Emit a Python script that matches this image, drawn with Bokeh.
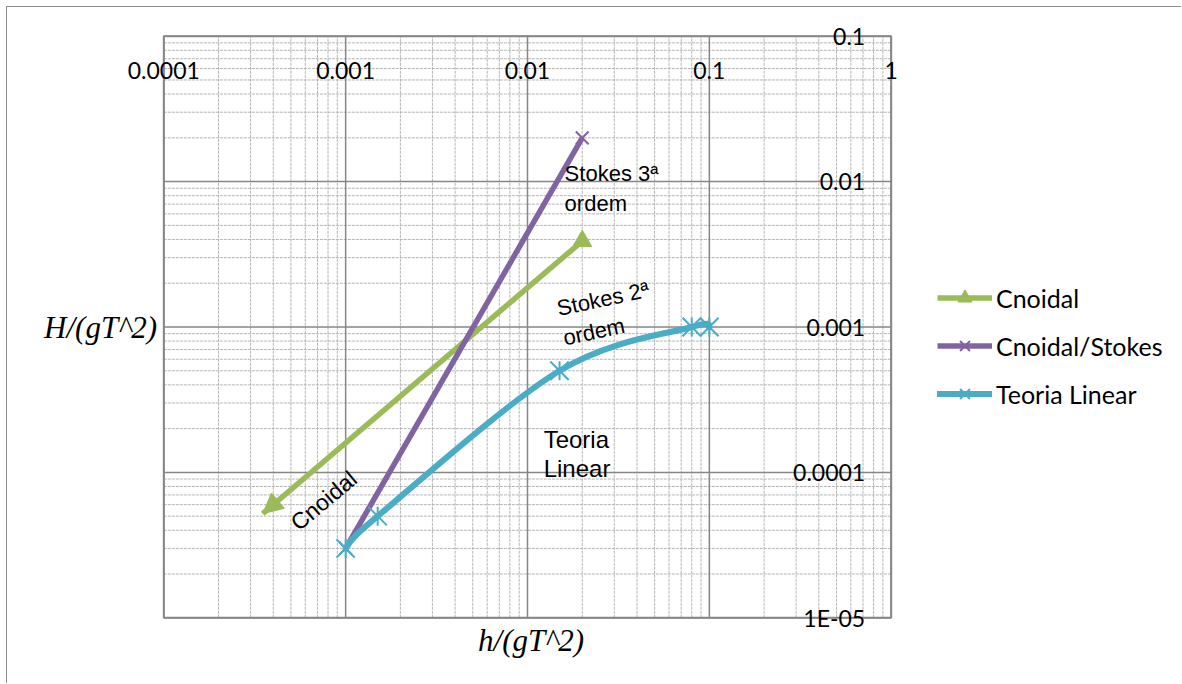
import numpy as np
from bokeh.plotting import figure
from bokeh.models import (Range1d, Legend, LegendItem, Label, LabelSet,
                          ColumnDataSource, Arrow, NormalHead)
from bokeh.core.properties import value
from bokeh.embed import file_html
from bokeh.resources import INLINE

# ---- data ----
x_ticks = [1e-4, 1e-3, 1e-2, 1e-1, 1.0]
x_tick_labels = ["0.0001", "0.001", "0.01", "0.1", "1"]
y_ticks = [1e-5, 1e-4, 1e-3, 1e-2, 1e-1]
y_tick_labels = ["1E-05", "0.0001", "0.001", "0.01", "0.1"]

cnoidal_x = [0.00035, 0.020]
cnoidal_y = [5.2e-5, 0.0039]
stokes_x = [0.001, 0.020]
stokes_y = [3.0e-5, 0.020]
linear_x = [0.001, 0.0015, 0.015, 0.080, 0.100]
linear_y = [3.0e-5, 5.0e-5, 5.0e-4, 0.001, 0.001]

series_names = ["Cnoidal", "Cnoidal/Stokes", "Teoria Linear"]

# ---- styles / layout ----
GREEN = "#9BBB59"
PURPLE = "#8064A2"
CYAN = "#4BACC6"
GRID = "#868686"
MINOR = "#b4b4b4"

W, H = 1175, 677            # canvas size (page offset 7px by margin + border)
ORIGIN = 7
AREA_L, AREA_R, AREA_T, AREA_B = 163.3, 890.7, 35.7, 617.3   # plot area on page

lx0, lx1 = np.log10(x_ticks[0]), np.log10(x_ticks[-1])
ly0, ly1 = np.log10(y_ticks[0]), np.log10(y_ticks[-1])
xdec = (AREA_R - AREA_L) / (lx1 - lx0)
ydec = (AREA_B - AREA_T) / (ly1 - ly0)
x_range = Range1d(10 ** (lx0 - (AREA_L - ORIGIN) / xdec), 10 ** (lx1 + (ORIGIN + W - AREA_R) / xdec))
y_range = Range1d(10 ** (ly0 - (ORIGIN + H - AREA_B) / ydec), 10 ** (ly1 + (AREA_T - ORIGIN) / ydec))

x_minor = [m * 10.0 ** e for e in range(int(lx0), int(lx1)) for m in range(2, 10)]
y_minor = [m * 10.0 ** e for e in range(int(ly0), int(ly1)) for m in range(2, 10)]

p = figure(width=W, height=H, x_axis_type="log", y_axis_type="log",
           x_range=x_range, y_range=y_range,
           output_backend="svg", toolbar_location=None, title=None,
           min_border_left=0, min_border_right=0, min_border_top=0, min_border_bottom=0)
p.styles = {"margin-left": "6px", "margin-top": "6px",
            "border-left": "1px solid #8c8c8c", "border-top": "1px solid #8c8c8c"}
p.xaxis.visible = False
p.yaxis.visible = False
p.xgrid.visible = False
p.ygrid.visible = False
p.background_fill_color = "white"
p.border_fill_color = "white"
p.outline_line_color = None

ybot, ytop = y_ticks[0], y_ticks[-1]
xlft, xrgt = x_ticks[0], x_ticks[-1]

# minor grid
p.segment(x0=x_minor, y0=[ybot] * len(x_minor), x1=x_minor, y1=[ytop] * len(x_minor),
          line_color=MINOR, line_width=1, line_dash="3 1")
p.segment(x0=[xlft] * len(y_minor), y0=y_minor, x1=[xrgt] * len(y_minor), y1=y_minor,
          line_color=MINOR, line_width=1, line_dash="3 1")
# major grid
p.segment(x0=x_ticks, y0=[ybot] * len(x_ticks), x1=x_ticks, y1=[ytop] * len(x_ticks),
          line_color=GRID, line_width=1.5)
p.segment(x0=[xlft] * len(y_ticks), y0=y_ticks, x1=[xrgt] * len(y_ticks), y1=y_ticks,
          line_color=GRID, line_width=1.5)
# plot-area border
p.quad(left=[xlft], right=[xrgt], bottom=[ybot], top=[ytop], fill_color=None,
       line_color=GRID, line_width=2)

# ---- Teoria Linear: smoothed (Excel-like) bezier in log space ----
lx = np.log10(np.array(linear_x))
ly = np.log10(np.array(linear_y))
n = len(lx)
i = np.arange(n - 1)
ip = np.maximum(i - 1, 0)
in2 = np.minimum(i + 2, n - 1)
cx0 = lx[i] + (lx[i + 1] - lx[ip]) / 6.0
cy0 = ly[i] + (ly[i + 1] - ly[ip]) / 6.0
cx1 = lx[i + 1] - (lx[in2] - lx[i]) / 6.0
cy1 = ly[i + 1] - (ly[in2] - ly[i]) / 6.0
bez = ColumnDataSource(dict(
    x0=10 ** lx[i], y0=10 ** ly[i], x1=10 ** lx[i + 1], y1=10 ** ly[i + 1],
    cx0=10 ** cx0, cy0=10 ** cy0, cx1=10 ** cx1, cy1=10 ** cy1))

# green line with arrow head at first point
g_line = p.line(cnoidal_x, cnoidal_y, line_color=GREEN, line_width=5.5)
p.add_layout(Arrow(end=NormalHead(size=20, fill_color=GREEN, line_color=GREEN, line_width=1),
                   x_start=cnoidal_x[1], y_start=cnoidal_y[1],
                   x_end=cnoidal_x[0], y_end=cnoidal_y[0],
                   line_color=GREEN, line_width=5, line_alpha=0))
g_mark = p.scatter(cnoidal_x[1:], cnoidal_y[1:], marker="triangle", size=19,
                   fill_color=GREEN, line_color=GREEN)

s_line = p.line(stokes_x, stokes_y, line_color=PURPLE, line_width=5.5)
s_mark = p.scatter(stokes_x, stokes_y, marker="x", size=18, line_color=PURPLE, line_width=2)

l_line = p.bezier(x0="x0", y0="y0", x1="x1", y1="y1", cx0="cx0", cy0="cy0",
                  cx1="cx1", cy1="cy1", source=bez, line_color=CYAN, line_width=6,
                  line_cap="round")
l_mark = p.scatter(linear_x, linear_y, marker="x", size=26, line_color=CYAN, line_width=2)
l_mark2 = p.scatter(linear_x, linear_y, marker="dash", angle=np.pi / 2, size=19,
                    line_color=CYAN, line_width=2)

legend = Legend(items=[
    LegendItem(label=series_names[0], renderers=[g_line, g_mark]),
    LegendItem(label=series_names[1], renderers=[s_line, s_mark]),
    LegendItem(label=series_names[2], renderers=[l_line, l_mark, l_mark2]),
], location=(930, 273), glyph_width=55, glyph_height=35, label_height=35,
    spacing=13, label_standoff=4, padding=0, margin=0,
    border_line_alpha=0, background_fill_alpha=0,
    label_text_font="Lato", label_text_font_size="25px", label_text_color="black")
p.add_layout(legend, "center")

# ---- tick labels ----
xsrc = ColumnDataSource(dict(x=x_ticks, y=[ytop] * len(x_ticks), t=x_tick_labels))
p.add_layout(LabelSet(x="x", y="y", text="t", source=xsrc, y_offset=-34,
                      text_align="center", text_baseline="middle",
                      text_font=value("Lato"), text_font_size="23px", text_color="black"))
ysrc = ColumnDataSource(dict(x=[xrgt] * len(y_ticks), y=y_ticks, t=y_tick_labels))
p.add_layout(LabelSet(x="x", y="y", text="t", source=ysrc, x_offset=-26,
                      text_align="right", text_baseline="middle",
                      text_font=value("Lato"), text_font_size="23px", text_color="black"))

# ---- axis titles ----
p.add_layout(Label(x=4.49e-5, y=1.0e-3, text="H/(gT^2)", text_align="center",
                   text_baseline="middle", text_font="Liberation Serif",
                   text_font_style="italic", text_font_size="31px", text_color="black"))
p.add_layout(Label(x=0.01047, y=6.98e-6, text="h/(gT^2)", text_align="center",
                   text_baseline="middle", text_font="Liberation Serif",
                   text_font_style="italic", text_font_size="31px", text_color="black"))

# ---- annotations ----
ann = dict(text_font="Liberation Sans", text_color="black", text_align="left")
p.add_layout(Label(x=0.016, y=0.01395, text="Stokes 3ª\nordem", text_baseline="top",
                   text_font_size="22px", **ann))
p.add_layout(Label(x=0.0141, y=1.62e-3, text="Stokes 2ª\nordem", text_baseline="top",
                   text_font_size="22px", angle=np.deg2rad(12), **ann))
p.add_layout(Label(x=0.01227, y=2.1e-4, text="Teoria\nLinear", text_baseline="top",
                   text_font_size="24px", text_line_height=1.1, **ann))
p.add_layout(Label(x=5.19e-4, y=4.3e-5, text="Cnoidal", text_baseline="alphabetic",
                   text_font_size="23px", angle=np.deg2rad(40), **ann))

open("out.html", "w").write(file_html(p, INLINE))
